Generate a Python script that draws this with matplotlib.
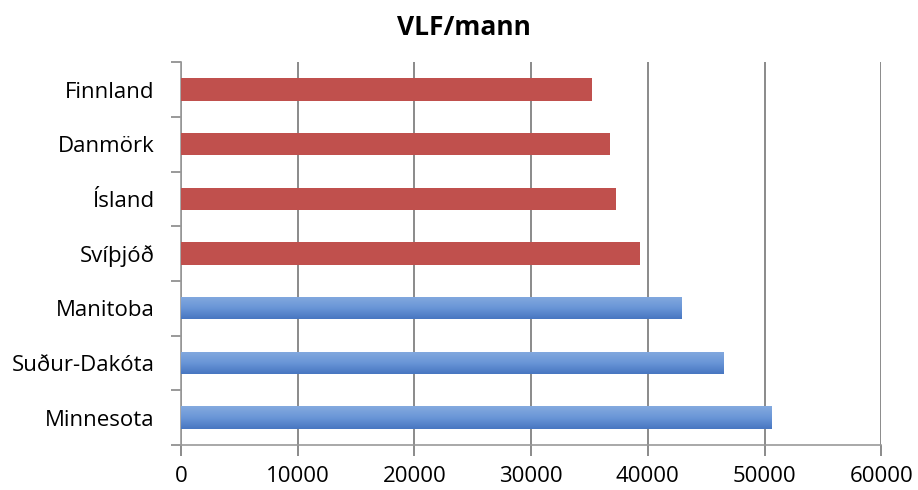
import numpy as np
import matplotlib
matplotlib.use("Agg")
import matplotlib.pyplot as plt

countries = ['Finnland', 'Danmörk', 'Ísland', 'Svíþjóð', 'Manitoba', 'Suður-Dakóta', 'Minnesota']
values = [35200, 36800, 37300, 39300, 42900, 46500, 50600]
groups = ['nordic', 'nordic', 'nordic', 'nordic', 'us', 'us', 'us']

plt.rcParams['font.family'] = ['Open Sans', 'DejaVu Sans']

fig = plt.figure(figsize=(9.18, 4.9), dpi=100)
ax = fig.add_axes([0.197, 0.092, 0.763, 0.781])

y = np.arange(len(countries))
colors = ['#C0504D' if g == 'nordic' else '#5B8FD3' for g in groups]
bars = ax.barh(y, values, height=0.41, color=colors, zorder=3)

# gradient on the blue bars
grad = np.linspace(0, 1, 100).reshape(-1, 1)
cmap = matplotlib.colors.LinearSegmentedColormap.from_list('b', ['#84AADF', '#6A96D7', '#4776C1'])
for b, g in zip(bars, groups):
    if g == 'us':
        x0, y0, w, h = b.get_x(), b.get_y(), b.get_width(), b.get_height()
        im = ax.imshow(grad, cmap=cmap, aspect='auto', extent=[x0, x0 + w, y0 + h, y0],
                       zorder=4, origin='upper')
        im.set_clip_path(b)

ax.set_xlim(0, 60000)
ax.set_ylim(len(countries) - 0.5, -0.5)
ax.set_yticks(y)
ax.set_yticklabels(countries)
ax.set_yticks(np.arange(-0.5, len(countries)), minor=True)
ax.tick_params(axis='y', which='major', length=0, pad=19, labelsize=16)
ax.tick_params(axis='y', which='minor', length=7, color='#888888', width=1.2)
ax.set_xticks(np.arange(0, 60001, 10000))
ax.tick_params(axis='x', length=8, color='#777777', width=1.2, labelsize=16, pad=7)

ax.grid(axis='x', color='#777777', linewidth=1.2, zorder=0)
for s in ['top', 'right']:
    ax.spines[s].set_visible(False)
ax.spines['left'].set_color('#999999')
ax.spines['bottom'].set_color('#999999')
ax.spines['left'].set_linewidth(1.2)
ax.spines['bottom'].set_linewidth(1.2)

fig.text(0.505, 0.943, 'VLF/mann', ha='center', va='center', fontsize=19, fontweight='bold')

fig.savefig('out.png', dpi=100)
